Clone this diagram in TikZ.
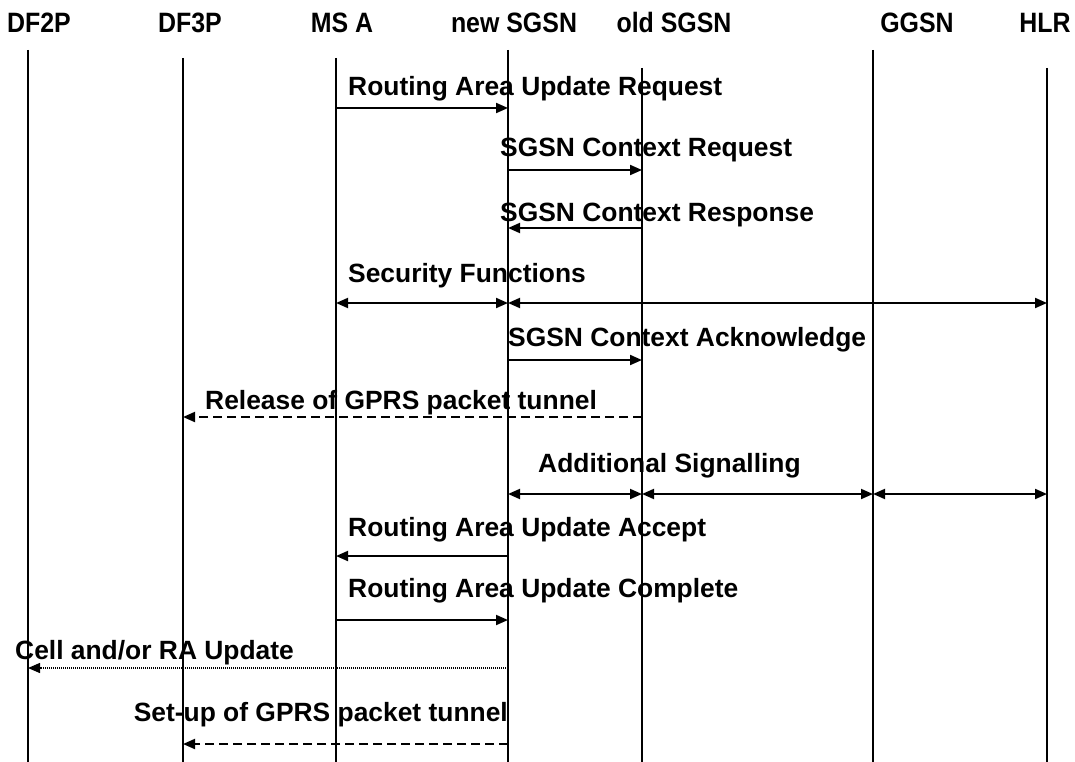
\documentclass[tikz,border=0pt]{standalone}
\usepackage{fontspec}
\setmainfont{Liberation Sans}
\newfontfamily\headfont[FakeStretch=0.89]{Liberation Sans}
\usetikzlibrary{arrows.meta, positioning}

\begin{document}
\begin{tikzpicture}[x=1pt, y=-1pt,
    entity/.style={font=\headfont\bfseries\fontsize{28}{30}\selectfont, inner sep=0pt, anchor=base},
    lifeline/.style={line width=1.7pt},
    msg/.style={line width=1.9pt, -{Triangle[length=12pt, width=10pt]}},
    both/.style={line width=1.9pt, {Triangle[length=12pt, width=10pt]}-{Triangle[length=12pt, width=10pt]}},
    tunnel/.style={msg, dash pattern=on 9pt off 5pt},
    update/.style={line width=1.3pt, dash pattern=on 1pt off 1pt, -{Triangle[length=12pt, width=10pt]}},
    lbl/.style={font=\bfseries\fontsize{26.4}{28}\selectfont, inner sep=0pt, anchor=base west}
]
    \useasboundingbox (0,0) rectangle (1075,762);

    % entities
    \node[entity] (df2p) at (39,33) {DF2P};
    \node[entity] (df3p) at (190,33) {DF3P};
    \node[entity] (msa) at (342,33) {MS A};
    \node[entity] (nsgsn) at (514,33) {new SGSN};
    \node[entity] (osgsn) at (674,33) {old SGSN};
    \node[entity] (ggsn) at (917,33) {GGSN};
    \node[entity] (hlr) at (1045,33) {HLR};

    % lifelines
    \coordinate (df2p-l) at (28,50);
    \coordinate (df3p-l) at (183,58);
    \coordinate (msa-l) at (336,58);
    \coordinate (nsgsn-l) at (508,50);
    \coordinate (osgsn-l) at (642,68);
    \coordinate (ggsn-l) at (873,50);
    \coordinate (hlr-l) at (1047,68);
    \coordinate (bottom) at (0,762);
    \foreach \e in {df2p, df3p, msa, nsgsn, osgsn, ggsn, hlr}
        \draw[lifeline] (\e-l) -- (\e-l |- bottom);

    % message rows
    \coordinate (r1) at (0,108);
    \coordinate (r2) at (0,170);
    \coordinate (r3) at (0,228);
    \coordinate (r4) at (0,303);
    \coordinate (r5) at (0,360);
    \coordinate (r6) at (0,417);
    \coordinate (r7) at (0,494);
    \coordinate (r8) at (0,556);
    \coordinate (r9) at (0,620);
    \coordinate (r10) at (0,668);
    \coordinate (r11) at (0,744);

    \node[lbl] (m1) at (348,96) {Routing Area Update Request};
    \draw[msg] (msa-l |- r1) -- (nsgsn-l |- r1);

    \node[lbl] (m2) at (500,157) {SGSN Context Request};
    \draw[msg] (nsgsn-l |- r2) -- (osgsn-l |- r2);

    \node[lbl] (m3) at (500,221) {SGSN Context Response};
    \draw[msg] (osgsn-l |- r3) -- (nsgsn-l |- r3);

    \node[lbl] (m4) at (348,282) {Security Functions};
    \draw[both] (msa-l |- r4) -- (nsgsn-l |- r4);
    \draw[both] (nsgsn-l |- r4) -- (hlr-l |- r4);

    \node[lbl] (m5) at (508,346) {SGSN Context Acknowledge};
    \draw[msg] (nsgsn-l |- r5) -- (osgsn-l |- r5);

    \node[lbl] (m6) at (205,409) {Release of GPRS packet tunnel};
    \draw[tunnel] (osgsn-l |- r6) -- (df3p-l |- r6);

    \node[lbl] (m7) at (538,472) {Additional Signalling};
    \draw[both] (nsgsn-l |- r7) -- (osgsn-l |- r7);
    \draw[both] (osgsn-l |- r7) -- (ggsn-l |- r7);
    \draw[both] (ggsn-l |- r7) -- (hlr-l |- r7);

    \node[lbl] (m8) at (348,536) {Routing Area Update Accept};
    \draw[msg] (nsgsn-l |- r8) -- (msa-l |- r8);

    \node[lbl] (m9) at (348,597) {Routing Area Update Complete};
    \draw[msg] (msa-l |- r9) -- (nsgsn-l |- r9);

    \node[lbl] (m10) at (15,659) {Cell and/or RA Update};
    \draw[update] (nsgsn-l |- r10) -- (df2p-l |- r10);

    \node[lbl, anchor=base east] (m11) at (508,721) {Set-up of GPRS packet tunnel};
    \draw[tunnel] (nsgsn-l |- r11) -- (df3p-l |- r11);
\end{tikzpicture}
\end{document}
